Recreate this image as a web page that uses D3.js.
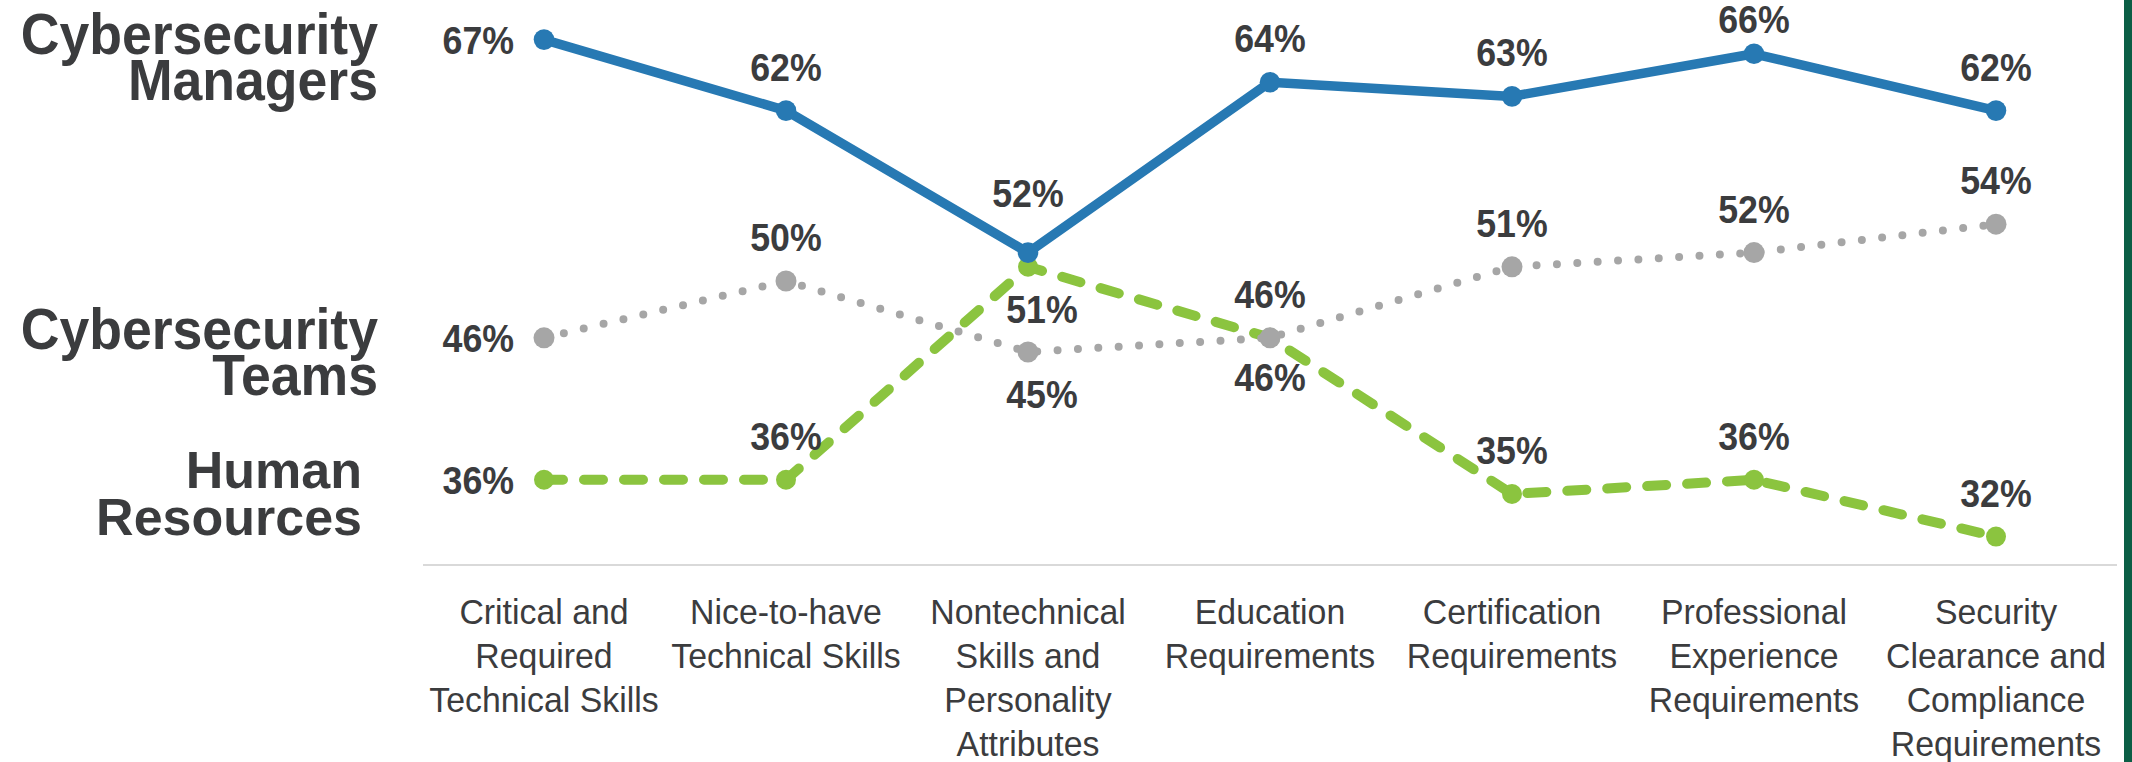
<!DOCTYPE html>
<html>
<head>
<meta charset="utf-8">
<script src="https://cdn.jsdelivr.net/npm/d3@7"></script>
<style>
  html, body { margin: 0; padding: 0; background: #fff; }
  svg { display: block; }
  text { font-family: "Liberation Sans", Arial, sans-serif; fill: #3b3c3e; }
</style>
</head>
<body>
<svg id="chart"></svg>
<script>
// ---------------- data ----------------
let categories = [
  ['Critical and', 'Required', 'Technical Skills'],
  ['Nice-to-have', 'Technical Skills'],
  ['Nontechnical', 'Skills and', 'Personality', 'Attributes'],
  ['Education', 'Requirements'],
  ['Certification', 'Requirements'],
  ['Professional', 'Experience', 'Requirements'],
  ['Security', 'Clearance and', 'Compliance', 'Requirements']
]
let managers = [67, 62, 52, 64, 63, 66, 62]
let teams = [46, 50, 45, 46, 51, 52, 54]
let hr = [36, 36, 51, 46, 35, 36, 32]

// where each value label sits (placement only)
let managersPos = ['left', 'above', 'high', 'above', 'above', 'above', 'above']
let teamsPos = ['left', 'above', 'belowR', 'below', 'above', 'above', 'above']
let hrPos = ['left', 'above', 'belowR', 'above', 'above', 'above', 'above']

// ---------------- setup ----------------
let W = 2132, H = 762
let svg = d3.select('#chart').attr('width', W).attr('height', H)

let x = d3.scaleBand()
  .domain(d3.range(categories.length))
  .range([423, 2117])

let y = d3.scaleLinear()
  .domain([30, 70])
  .range([565, -3])

let cx = i => x(i) + x.bandwidth() / 2

// text squeezed a bit horizontally, like the original
function addText(g, tx, ty, str, opts) {
  let sx = opts.squeeze || 0.94
  return g.append('text')
    .attr('transform', `translate(${tx},${ty}) scale(${sx},1)`)
    .attr('text-anchor', opts.anchor || 'middle')
    .attr('font-size', opts.size + 'px')
    .attr('font-weight', opts.weight || 'normal')
    .text(str)
}

// right edge bar
svg.append('rect').attr('x', 2124).attr('y', 0).attr('width', 8).attr('height', H).attr('fill', '#0b5e45')

// axis line
svg.append('line')
  .attr('x1', x.range()[0]).attr('x2', x.range()[1])
  .attr('y1', y(30)).attr('y2', y(30))
  .attr('stroke', '#d9d9d9').attr('stroke-width', 2)

// category labels
let catG = svg.append('g')
categories.forEach((lines, i) => {
  lines.forEach((ln, j) => {
    addText(catG, cx(i), 624 + j * 44, ln, {size: 36})
  })
})

// series names on the left
let nameG = svg.append('g')
addText(nameG, 378, 54, 'Cybersecurity', {size: 57, weight: 'bold', anchor: 'end'})
addText(nameG, 378, 100, 'Managers', {size: 57, weight: 'bold', anchor: 'end'})
addText(nameG, 378, 349, 'Cybersecurity', {size: 57, weight: 'bold', anchor: 'end'})
addText(nameG, 378, 395, 'Teams', {size: 57, weight: 'bold', anchor: 'end'})
addText(nameG, 362, 488, 'Human', {size: 52, weight: 'bold', anchor: 'end', squeeze: 1})
addText(nameG, 362, 535, 'Resources', {size: 52, weight: 'bold', anchor: 'end', squeeze: 1})

let line = d3.line().x((d, i) => cx(i)).y(d => y(d))

// series, bottom to top
let series = [
  {vals: hr, pos: hrPos, color: '#8bc43f', width: 10, dash: '19 21', r: 10},
  {vals: teams, pos: teamsPos, color: '#a6a6a6', width: 8, dash: '0 20.4', r: 10.5},
  {vals: managers, pos: managersPos, color: '#2779b3', width: 9.5, dash: null, r: 10.3}
]

series.forEach(s => {
  let g = svg.append('g')
  g.append('path')
    .datum(s.vals)
    .attr('d', line)
    .attr('fill', 'none')
    .attr('stroke', s.color)
    .attr('stroke-width', s.width)
    .attr('stroke-linecap', 'round')
    .attr('stroke-linejoin', 'round')
    .attr('stroke-dasharray', s.dash)
  g.selectAll('circle').data(s.vals)
    .enter()
    .append('circle')
    .attr('cx', (d, i) => cx(i))
    .attr('cy', d => y(d))
    .attr('r', s.r)
    .attr('fill', s.color)
})

// value labels on top
let labG = svg.append('g')
series.forEach(s => {
  s.vals.forEach((v, i) => {
    let px = cx(i), py = y(v)
    let p = s.pos[i]
    let str = v + '%'
    if (p == 'left') {
      addText(labG, px - 30, py + 14, str, {size: 38, weight: 'bold', anchor: 'end'})
    } else if (p == 'above') {
      addText(labG, px, Math.max(py - 30, 33), str, {size: 38, weight: 'bold'})
    } else if (p == 'high') {
      addText(labG, px, py - 46, str, {size: 38, weight: 'bold'})
    } else if (p == 'below') {
      addText(labG, px, py + 53, str, {size: 38, weight: 'bold'})
    } else {
      addText(labG, px + 14, py + 56, str, {size: 38, weight: 'bold'})
    }
  })
})
</script>
</body>
</html>
